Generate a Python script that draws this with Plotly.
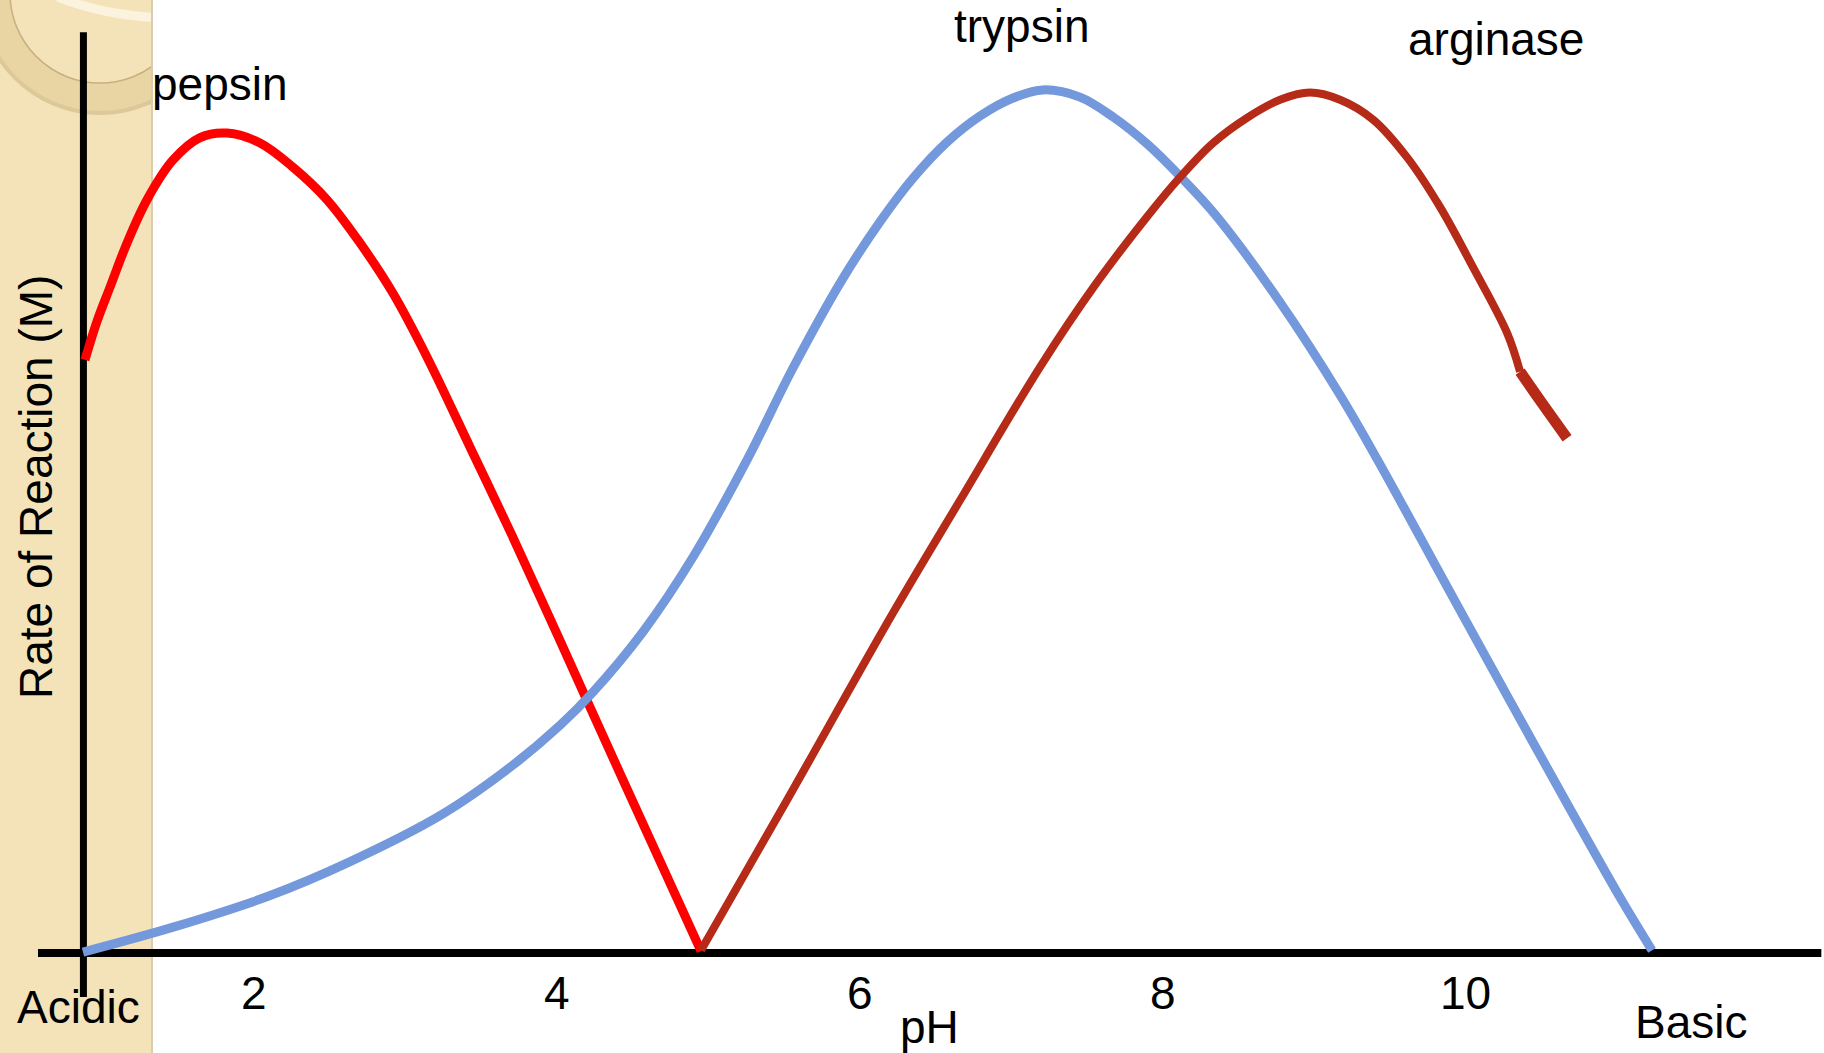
import plotly.graph_objects as go

# ---------------- data (pH vs. relative rate of reaction) ----------------
pepsin_ph = [0.885, 0.965, 1.051, 1.163, 1.295, 1.466, 1.645, 1.823, 2.041, 2.259,
             2.483, 2.701, 2.919, 3.144, 3.428, 3.705, 4.022, 4.352, 4.682, 4.953]
pepsin_rate = [65.9, 70.2, 74.0, 78.9, 83.7, 88.1, 90.6, 91.1, 90.0, 87.3,
               83.7, 78.9, 73.3, 66.2, 56.2, 46.4, 34.7, 22.4, 10.2, 0.2]

trypsin_ph = [0.872, 1.473, 2.094, 2.629, 3.243, 3.705, 4.022, 4.240, 4.570, 4.900,
              5.257, 5.560, 5.884, 6.141, 6.353, 6.577, 6.795, 7.013, 7.211, 7.455,
              7.673, 7.898, 8.116, 8.360, 8.776, 9.172, 9.416, 9.925, 10.308, 10.691,
              11.034, 11.232]
trypsin_rate = [0.1, 2.9, 6.3, 10.1, 15.4, 20.8, 25.3, 29.0, 35.7, 44.0,
                54.8, 65.0, 74.8, 81.4, 86.1, 90.1, 93.0, 95.0, 95.9, 95.1,
                92.9, 89.9, 86.3, 81.8, 72.3, 62.0, 54.9, 39.3, 27.6, 16.0,
                5.8, 0.3]

arginase_ph = [4.953, 5.521, 6.221, 6.663, 7.191, 7.554, 7.898, 8.116, 8.334, 8.558,
               8.776, 8.974, 9.172, 9.390, 9.615, 9.832, 10.050, 10.275, 10.361,
               10.493, 10.671]
arginase_rate = [0.3, 17.0, 37.8, 50.3, 65.1, 74.2, 81.8, 86.2, 90.0, 92.8,
                 94.8, 95.6, 94.8, 92.6, 88.4, 82.9, 76.2, 68.9, 64.6,
                 61.4, 57.2]

tick_values = [2, 4, 6, 8, 10]
tick_labels = ["2", "4", "6", "8", "10"]

# ---------------- figure ----------------
W, H = 1824, 1053
FONT = "Arial, Liberation Sans, Helvetica, sans-serif"
FS = 46

RED = "#FF0000"
BLUE = "#7398DB"
DARKRED = "#B52B18"

fig = go.Figure()

fig.add_trace(go.Scatter(x=pepsin_ph, y=pepsin_rate, mode="lines", name="pepsin",
                         line=dict(color=RED, width=9, shape="spline", smoothing=1.0),
                         xaxis="x2", yaxis="y2", hoverinfo="skip"))
fig.add_trace(go.Scatter(x=trypsin_ph, y=trypsin_rate, mode="lines", name="trypsin",
                         line=dict(color=BLUE, width=9, shape="spline", smoothing=1.0),
                         xaxis="x2", yaxis="y2", hoverinfo="skip"))
fig.add_trace(go.Scatter(x=arginase_ph[:-2], y=arginase_rate[:-2], mode="lines", name="arginase",
                         line=dict(color=DARKRED, width=8, shape="spline", smoothing=1.0),
                         xaxis="x2", yaxis="y2", hoverinfo="skip"))
# thicker hand-drawn tail of the arginase stroke
fig.add_trace(go.Scatter(x=arginase_ph[-3:], y=arginase_rate[-3:], mode="lines",
                         line=dict(color=DARKRED, width=11, shape="spline", smoothing=1.0),
                         xaxis="x2", yaxis="y2", hoverinfo="skip", showlegend=False))

shapes = []
# beige side band (subplot x/y in pixel units, clips the ring decoration)
BAND_W = 153
shapes.append(dict(type="rect", xref="x", yref="y", x0=0, x1=BAND_W, y0=0, y1=H,
                   fillcolor="#F4E3B9", line=dict(width=0), layer="below"))
shapes.append(dict(type="circle", xref="x", yref="y", x0=100 - 122, x1=100 + 122,
                   y0=-7 - 122, y1=-7 + 122, fillcolor="#DCC898",
                   line=dict(width=0), layer="below"))
shapes.append(dict(type="circle", xref="x", yref="y", x0=100 - 118, x1=100 + 118,
                   y0=-7 - 118, y1=-7 + 118, fillcolor="#E9D5A3",
                   line=dict(width=0), layer="below"))
shapes.append(dict(type="circle", xref="x", yref="y", x0=100 - 90, x1=100 + 90,
                   y0=-7 - 90, y1=-7 + 90, fillcolor="#F4E3B9",
                   line=dict(width=1.5, color="#C9AF7E"), layer="below"))
shapes.append(dict(type="path", xref="x", yref="y", path="M 58,-3 Q 105,16 165,18",
                   line=dict(width=9, color="#FBF3DE"), layer="below"))
shapes.append(dict(type="line", xref="x", yref="y", x0=BAND_W - 1, x1=BAND_W - 1,
                   y0=0, y1=H, line=dict(width=2, color="#D8CDB0"), layer="below"))

# axes lines (in data coordinates of the main subplot)
shapes.append(dict(type="line", xref="x2", yref="y2", x0=0.575, x1=12.35, y0=0, y1=0,
                   line=dict(color="black", width=8), layer="below"))
shapes.append(dict(type="line", xref="x2", yref="y2", x0=0.875, x1=0.875, y0=-4.9, y1=102.3,
                   line=dict(color="black", width=7), layer="below"))

annotations = []
for v, t in zip(tick_values, tick_labels):
    annotations.append(dict(x=v, y=-4.44, xref="x2", yref="y2", text=t, showarrow=False,
                            xanchor="center", yanchor="middle",
                            font=dict(family=FONT, size=FS, color="black")))


def lab(text, px, py, angle=0):
    annotations.append(dict(x=px / W, y=1 - py / H, xref="paper", yref="paper", text=text,
                            showarrow=False, xanchor="center", yanchor="middle",
                            textangle=angle,
                            font=dict(family=FONT, size=FS, color="black")))


lab("pepsin", 220, 84)
lab("trypsin", 1021, 26)
lab("arginase", 1496, 39)
lab("Acidic", 78, 1007)
lab("Basic", 1691, 1022)
lab("pH", 930, 1027)
lab("Rate of Reaction (M)", 36, 487, angle=-90)

fig.update_layout(
    width=W, height=H,
    margin=dict(l=0, r=0, t=0, b=0),
    paper_bgcolor="white", plot_bgcolor="rgba(0,0,0,0)",
    showlegend=False,
    xaxis=dict(domain=[0, BAND_W / W], range=[0, BAND_W], visible=False, fixedrange=True),
    yaxis=dict(domain=[0, 1], range=[H, 0], visible=False, fixedrange=True),
    xaxis2=dict(domain=[0, 1], range=[0.3242, 12.3676], visible=False, anchor="y2"),
    yaxis2=dict(domain=[0, 1], range=[-11.111, 105.889], visible=False, anchor="x2"),
    shapes=shapes,
    annotations=annotations,
)

fig.write_html("out.html", post_script="document.body.style.margin='0';",
               config={"displayModeBar": False})
